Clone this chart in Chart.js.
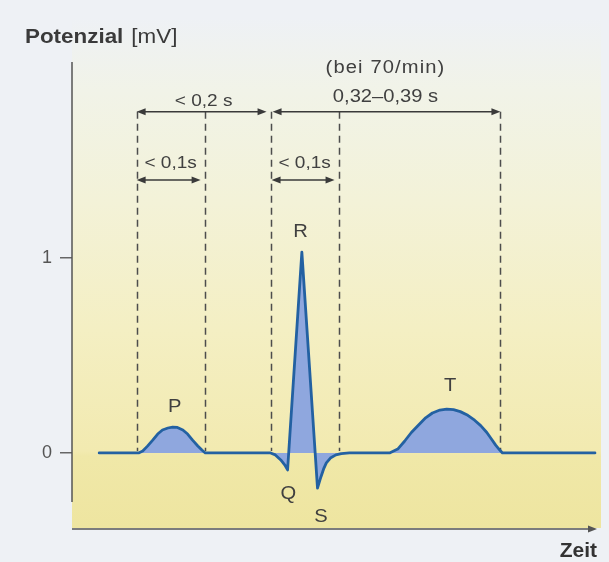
<!DOCTYPE html>
<html>
<head>
<meta charset="utf-8">
<script src="https://cdn.jsdelivr.net/npm/chart.js@4/dist/chart.umd.min.js"></script>
<style>
  html, body { margin: 0; padding: 0; background: #eef1f5; }
  canvas { display: block; }
</style>
</head>
<body>
<canvas id="ekg" width="609" height="562"></canvas>
<script>
// ECG trace of one heart cycle: time in ms (P onset = 0), potential in mV
const timeMs = [
  -55, 3, 9, 16, 24, 31, 38, 46, 53, 60, 68, 75, 82, 90, 96, 101,
  197, 204, 212, 218, 222, 243, 266, 271, 275, 279, 285, 293, 301, 313,
  372, 384, 394, 404, 415, 425, 435, 446, 456, 466, 476, 487, 497, 506, 515, 522, 528, 534, 538, 674
];
const potentialMv = [
  0, 0, 0.01, 0.035, 0.067, 0.097, 0.118, 0.128, 0.133, 0.131, 0.118, 0.097, 0.067, 0.036, 0.015, 0,
  0, -0.01, -0.036, -0.062, -0.087, 1.03, -0.18, -0.123, -0.082, -0.051, -0.026, -0.01, -0.003, 0,
  0, 0.02, 0.06, 0.105, 0.145, 0.18, 0.205, 0.22, 0.225, 0.222, 0.212, 0.193, 0.168, 0.14, 0.105, 0.07, 0.04, 0.015, 0, 0
];
const yTicks = [0, 1];

// Interval boundaries (ms): P onset, P end, QRS onset, QRS end, T end
const boundaryMs = [0, 100, 197, 297, 535];
const intervalTexts = ['< 0,1s', '< 0,2 s', '< 0,1s', '0,32–0,39 s'];
const rateNote = '(bei 70/min)';
const waveNames = ['P', 'Q', 'R', 'S', 'T'];

// ---- drawing setup (positions / styles) ----
const FONT = "'Liberation Sans', Arial, Helvetica, sans-serif";
const TEXT_COLOR = '#404040';
const TEXT_SX = 1.12;
const PAGE_BG = '#eef1f5';

// dimension arrows between boundaries, with their labels
const arrowSpecs = [
  { from: 0, to: 2, level: 1.75, text: 1, textLevel: 1.78, insetL: 0, insetR: 4 },
  { from: 2, to: 4, level: 1.75, text: 3, textLevel: 1.80, insetL: 2, insetR: 0 },
  { from: 0, to: 1, level: 1.40, text: 0, textLevel: 1.46, insetL: 0, insetR: 4 },
  { from: 2, to: 3, level: 1.40, text: 2, textLevel: 1.46, insetL: 1, insetR: 4 }
];
const rateNoteAt = { level: 1.95 };
const waveLabelAt = {
  P: [56, 0.21], Q: [223, -0.236], R: [241, 1.108], S: [271, -0.354], T: [461, 0.318]
};

function drawText(ctx, text, x, y, font, align, sx, spacing) {
  ctx.save();
  ctx.font = font;
  ctx.letterSpacing = spacing || '0px';
  ctx.textBaseline = 'alphabetic';
  ctx.textAlign = 'left';
  const w = ctx.measureText(text).width * sx;
  const left = align === 'center' ? x - w / 2 : (align === 'right' ? x - w : x);
  ctx.translate(left, y);
  ctx.scale(sx, 1);
  ctx.fillText(text, 0, 0);
  ctx.restore();
  return w;
}

function arrowHead(ctx, x, y, dir) {
  ctx.beginPath();
  ctx.moveTo(x, y);
  ctx.lineTo(x - dir * 9, y - 3.5);
  ctx.lineTo(x - dir * 9, y + 3.5);
  ctx.closePath();
  ctx.fill();
}

const ekgDecor = {
  id: 'ekgDecor',
  beforeDraw(chart) {
    const { ctx, chartArea: a } = chart;
    const y0 = chart.scales.y.getPixelForValue(0);
    ctx.save();
    ctx.fillStyle = PAGE_BG;
    ctx.fillRect(0, 0, chart.width, chart.height);
    const top = 18, bottom = a.bottom - 1, left = a.left, right = a.right + 4;
    const g = ctx.createLinearGradient(0, top, 0, bottom);
    const stop = (y, c) => g.addColorStop(Math.min(1, Math.max(0, (y - top) / (bottom - top))), c);
    stop(top, '#eef1f5');
    stop(90, '#f1f3e8');
    stop(200, '#f3f2d8');
    stop(330, '#f4efc3');
    stop(y0 - 2, '#f2eab0');
    stop(y0 + 3, '#f0e8a8');
    stop(bottom, '#eee5a0');
    ctx.fillStyle = g;
    ctx.fillRect(left, top, right - left, bottom - top);
    ctx.restore();
  },
  beforeDatasetsDraw(chart) {
    const { ctx, chartArea: a } = chart;
    ctx.save();
    ctx.strokeStyle = '#555';
    ctx.fillStyle = '#555';
    ctx.lineWidth = 1.5;
    // vertical axis
    ctx.beginPath();
    ctx.moveTo(a.left, a.top - 1);
    ctx.lineTo(a.left, a.bottom - 27);
    ctx.stroke();
    // time axis with arrow
    ctx.beginPath();
    ctx.moveTo(a.left, a.bottom);
    ctx.lineTo(a.right - 6, a.bottom);
    ctx.stroke();
    arrowHead(ctx, a.right, a.bottom, 1);
    // dashed interval boundaries
    const xs = chart.scales.x, ys = chart.scales.y;
    ctx.strokeStyle = '#4d4d4d';
    ctx.setLineDash([7, 5]);
    const yTop = ys.getPixelForValue(1.75);
    const yBot = ys.getPixelForValue(0) - 2;
    boundaryMs.forEach(t => {
      const x = Math.round(xs.getPixelForValue(t)) + 0.5;
      ctx.beginPath();
      ctx.moveTo(x, yTop);
      ctx.lineTo(x, yBot);
      ctx.stroke();
    });
    ctx.restore();
  },
  afterDraw(chart) {
    const { ctx } = chart;
    const xs = chart.scales.x, ys = chart.scales.y;
    ctx.save();
    // axis title
    ctx.fillStyle = '#3a3a3a';
    const w = drawText(ctx, 'Potenzial', 25, 43, 'bold 20px ' + FONT, 'left', TEXT_SX);
    drawText(ctx, '[mV]', 25 + w + 8, 43, '20px ' + FONT, 'left', TEXT_SX);

    // interval arrows and labels
    ctx.lineWidth = 1.5;
    arrowSpecs.forEach(s => {
      ctx.strokeStyle = '#3a3a3a';
      ctx.fillStyle = '#3a3a3a';
      const x1 = xs.getPixelForValue(boundaryMs[s.from]) + s.insetL;
      const x2 = xs.getPixelForValue(boundaryMs[s.to]) - s.insetR;
      const y = ys.getPixelForValue(s.level);
      ctx.beginPath();
      ctx.moveTo(x1 + 6, y);
      ctx.lineTo(x2 - 6, y);
      ctx.stroke();
      arrowHead(ctx, x1, y, -1);
      arrowHead(ctx, x2, y, 1);
      const cx = (xs.getPixelForValue(boundaryMs[s.from]) + xs.getPixelForValue(boundaryMs[s.to])) / 2;
      ctx.fillStyle = TEXT_COLOR;
      const size = s.text === 3 ? 18 : 17;
      drawText(ctx, intervalTexts[s.text], cx, ys.getPixelForValue(s.textLevel), size + 'px ' + FONT, 'center', TEXT_SX);
    });
    const qtMid = (xs.getPixelForValue(boundaryMs[2]) + xs.getPixelForValue(boundaryMs[4])) / 2;
    ctx.fillStyle = TEXT_COLOR;
    drawText(ctx, rateNote, qtMid, ys.getPixelForValue(rateNoteAt.level), '18px ' + FONT, 'center', TEXT_SX, '1px');

    // wave names
    waveNames.forEach(n => {
      const [t, v] = waveLabelAt[n];
      drawText(ctx, n, xs.getPixelForValue(t), ys.getPixelForValue(v), '18px ' + FONT, 'center', TEXT_SX);
    });
    ctx.restore();
  }
};

new Chart(document.getElementById('ekg'), {
  type: 'line',
  data: {
    datasets: [{
      data: timeMs.map((t, i) => ({ x: t, y: potentialMv[i] })),
      borderColor: '#2361a2',
      borderWidth: 2.8,
      backgroundColor: '#8fa7de',
      fill: 'origin',
      pointRadius: 0,
      tension: 0,
      borderJoinStyle: 'round',
      borderCapStyle: 'round'
    }]
  },
  options: {
    responsive: false,
    animation: false,
    devicePixelRatio: 1,
    layout: { padding: { top: 63, right: 12, left: 0, bottom: 0 } },
    plugins: { legend: { display: false }, tooltip: { enabled: false }, title: { display: false } },
    scales: {
      x: {
        type: 'linear',
        min: -95,
        max: 677,
        ticks: { display: false },
        grid: { display: false },
        border: { display: false },
        title: {
          display: true,
          text: 'Zeit',
          align: 'end',
          color: '#333',
          padding: 0,
          font: { family: FONT, size: 21, weight: 'bold', lineHeight: 1 }
        },
        afterFit: s => { s.height = 33; }
      },
      y: {
        type: 'linear',
        min: -0.39,
        max: 2.0,
        afterBuildTicks: s => { s.ticks = yTicks.map(v => ({ value: v })); },
        ticks: { color: '#555', padding: 8, font: { family: FONT, size: 18 } },
        grid: { display: true, drawOnChartArea: false, drawTicks: true, tickLength: 12, color: '#666', lineWidth: 1.5 },
        border: { display: false },
        afterFit: s => { s.width = 72; }
      }
    }
  },
  plugins: [ekgDecor]
});
</script>
</body>
</html>
